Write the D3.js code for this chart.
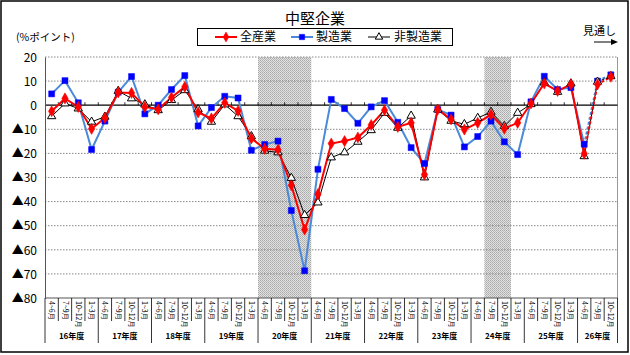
<!DOCTYPE html>
<html><head><meta charset="utf-8">
<script src="https://cdn.jsdelivr.net/npm/d3@7/dist/d3.min.js"></script>
<style>
body{margin:0;background:#fff;}
svg{display:block;}
text{font-family:"Liberation Sans","Noto Sans CJK JP",sans-serif;}
.jp{font-family:"Noto Sans CJK JP",sans-serif;}
</style></head>
<body>
<svg id="c" width="630" height="355"></svg>
<script>
const years = ["16年度","17年度","18年度","19年度","20年度","21年度","22年度","23年度","24年度","25年度","26年度"];
const quarters = ["4~6月","7~9月","10~12月","1~3月"];
const lastYearQuarters = 3;
const yTicks = [20,10,0,-10,-20,-30,-40,-50,-60,-70,-80];
const seriesNames = ["全産業","製造業","非製造業"];
const allIndustry = [-2.5,2.8,-0.7,-9.8,-5.3,5.3,5.1,-0.7,-1.7,3.2,7.6,-3.0,-5.5,1.0,-2.4,-13.8,
  -18.1,-18.5,-33.2,-51.6,-36.9,-15.9,-14.9,-13.4,-8.2,-2.1,-9.0,-7.3,-28.8,-1.8,
  -5.9,-10.1,-7.3,-3.9,-9.7,-7.3,0.7,9.0,5.9,8.6,-20.1,8.6,11.8];
const manufacturing = [4.7,10.2,1.0,-18.4,-6.6,5.4,11.9,-3.6,0,6.5,12.3,-8.6,-1.0,3.7,3.0,-18.7,
  -16.3,-14.9,-43.7,-68.7,-26.6,2.4,-1.4,-7.5,-0.7,1.9,-7.1,-17.6,-24.2,-1.8,
  -4.1,-17.3,-13.0,-6.6,-15.2,-20.5,1.4,12.0,6.5,7.3,-16.2,10.0,12.6];
const nonManufacturing = [-4.6,0.7,-1.4,-6.9,-4.8,5.9,2.8,0.3,-2.1,2.1,6.2,-1.7,-6.9,0.3,-4.6,-12.9,
  -18.9,-19.6,-30.2,-45.6,-40.4,-21.7,-19.6,-15.2,-10.4,-3.2,-9.4,-4.4,-30.0,-1.8,
  -6.5,-7.9,-5.3,-2.8,-8.7,-3.2,0.4,9.4,5.5,9.0,-21.2,9.7,12.0];
const forecastStart = 40;
const shadedRanges = [[16,19],[33,34]];

// categories
const cats = [];
years.forEach((y,yi)=>{
  const n = yi===years.length-1 ? lastYearQuarters : 4;
  for(let q=0;q<n;q++) cats.push({year:y, yi, q:quarters[q], idx:cats.length});
});

const svg = d3.select("#c");
const L=45, R=617.5, T=57, B=298;
const x = d3.scaleBand().domain(cats.map(d=>d.idx)).range([L,R]).padding(0);
const y = d3.scaleLinear().domain([-80,20]).range([B,T]);
const cx = i => x(i)+x.bandwidth()/2;

// outer frame
svg.append("rect").attr("x",1).attr("y",1).attr("width",627).attr("height",351)
  .attr("fill","#fff").attr("stroke","#000").attr("stroke-width",1.5);

// pattern
const defs = svg.append("defs");
const pat = defs.append("pattern").attr("id","dots").attr("width",2).attr("height",2).attr("patternUnits","userSpaceOnUse");
pat.append("rect").attr("width",2).attr("height",2).attr("fill","#e2e2e2");
pat.append("rect").attr("width",1).attr("height",1).attr("fill","#a8a8a8");
pat.append("rect").attr("x",1).attr("y",1).attr("width",1).attr("height",1).attr("fill","#b8b8b8");

shadedRanges.forEach(r=>{
  svg.append("rect").attr("x",x(r[0])).attr("y",T).attr("width",x(r[1])+x.bandwidth()-x(r[0])).attr("height",B-T)
    .attr("fill","url(#dots)");
});

// gridlines
svg.append("g").selectAll("line").data(yTicks.filter(v=>v!==0 && v!==-80)).join("line")
  .attr("x1",L).attr("x2",R).attr("y1",d=>y(d)).attr("y2",d=>y(d))
  .attr("stroke","#888").attr("stroke-width",1).attr("stroke-dasharray","1.5,1.5");
// right border
svg.append("line").attr("x1",R).attr("x2",R).attr("y1",T).attr("y2",B).attr("stroke","#999");
// zero line
svg.append("line").attr("x1",L).attr("x2",R).attr("y1",y(0)).attr("y2",y(0)).attr("stroke","#000").attr("stroke-width",1.2);
// ticks on zero line
svg.append("g").selectAll("line").data(cats.slice(1)).join("line")
  .attr("x1",d=>x(d.idx)).attr("x2",d=>x(d.idx)).attr("y1",y(0)-3).attr("y2",y(0))
  .attr("stroke","#000").attr("stroke-width",0.8);

// y axis
const yAxis = d3.axisLeft(y).tickValues(yTicks).tickSize(0).tickPadding(8)
  .tickFormat(v=> v<0 ? "▲"+(-v) : String(v));
const gy = svg.append("g").attr("transform",`translate(${L},0)`).call(yAxis);
gy.select(".domain").attr("stroke","#555");
gy.selectAll("text").attr("font-size",12).attr("fill","#000").attr("class","jp").attr("dy","0.35em");

// bottom axis line
svg.append("line").attr("x1",L).attr("x2",R).attr("y1",B).attr("y2",B).attr("stroke","#555");
// separators
const bounds = d3.range(cats.length+1);
svg.append("g").selectAll("line").data(bounds).join("line")
  .attr("x1",i=> i<cats.length ? x(i) : R).attr("x2",i=> i<cats.length ? x(i) : R)
  .attr("y1",B).attr("y2",i=>{
    const isYear = i===cats.length || cats[i].q===quarters[0];
    return isYear ? 343 : 321;
  }).attr("stroke","#000").attr("stroke-width",0.8);

// quarter labels
svg.append("g").selectAll("text").data(cats).join("text")
  .attr("class","jp")
  .attr("transform",d=>`translate(${cx(d.idx)},301) rotate(90)`)
  .attr("dy","0.35em").attr("font-size",7).attr("fill","#000")
  .text(d=>d.q);
// year labels
years.forEach((yr,yi)=>{
  const cs = cats.filter(c=>c.yi===yi);
  const mid = (x(cs[0].idx) + x(cs[cs.length-1].idx)+x.bandwidth())/2;
  svg.append("text").attr("class","jp").attr("x",mid).attr("y",339).attr("text-anchor","middle")
    .attr("font-size",8).attr("font-weight","bold").text(yr);
});

// series
const series = [
  {name:seriesNames[1], values:manufacturing, color:"#4a8ad8", mcolor:"#0000ff", w:2, sym:d3.symbolSquare, size:36, fill:"#0000ff"},
  {name:seriesNames[2], values:nonManufacturing, color:"#000", mcolor:"#000", w:1, sym:d3.symbolTriangle, size:30, fill:"#fff"},
  {name:seriesNames[0], values:allIndustry, color:"#ff0000", mcolor:"#ff0000", w:2, sym:d3.symbolDiamond, size:36, fill:"#ff0000"}
];
const line = d3.line().x(d=>cx(d.i)).y(d=>y(d.v));
series.forEach(s=>{
  const pts = s.values.map((v,i)=>({v,i}));
  svg.append("path").datum(pts.slice(0,forecastStart+1)).attr("d",line)
    .attr("fill","none").attr("stroke",s.color).attr("stroke-width",s.w);
  svg.append("path").datum(pts.slice(forecastStart)).attr("d",line)
    .attr("fill","none").attr("stroke",s.color).attr("stroke-width",s.w).attr("stroke-dasharray","3,2");
});
series.forEach(s=>{
  const pts = s.values.map((v,i)=>({v,i}));
  svg.append("g").selectAll("path").data(pts).join("path")
    .attr("transform",d=>`translate(${cx(d.i)},${y(d.v)})`)
    .attr("d",d3.symbol().type(s.sym).size(s.size))
    .attr("fill",s.fill).attr("stroke",s.mcolor).attr("stroke-width",s.fill==="#fff"?1:0.5);
});

// title
svg.append("text").attr("class","jp").attr("x",315).attr("y",19).attr("dy","0.35em").attr("text-anchor","middle")
  .attr("font-size",15).text("中堅企業");
// legend
svg.append("rect").attr("x",197.5).attr("y",28.5).attr("width",255).attr("height",17)
  .attr("fill","#fff").attr("stroke","#000");
const legendItems = [
  {s:series[2], x0:215, tx:240},
  {s:series[0], x0:291, tx:316},
  {s:series[1], x0:368, tx:394}
];
legendItems.forEach(it=>{
  const s = it.s, ly=37;
  svg.append("line").attr("x1",it.x0).attr("x2",it.x0+22).attr("y1",ly).attr("y2",ly)
    .attr("stroke",s.color).attr("stroke-width",s.w);
  svg.append("path").attr("transform",`translate(${it.x0+11},${ly})`)
    .attr("d",d3.symbol().type(s.sym).size(s.size*0.8))
    .attr("fill",s.fill).attr("stroke",s.mcolor).attr("stroke-width",s.fill==="#fff"?1:0.5);
  svg.append("text").attr("class","jp").attr("x",it.tx).attr("y",ly).attr("dy","0.36em")
    .attr("font-size",12).text(s.name);
});
// unit
svg.append("text").attr("class","jp").attr("x",16).attr("y",41).attr("font-size",10.5).text("(%ポイント)");
// forecast label + arrow
svg.append("text").attr("class","jp").attr("x",583).attr("y",35).attr("font-size",11).text("見通し");
svg.append("line").attr("x1",594).attr("x2",612).attr("y1",42).attr("y2",42).attr("stroke","#000").attr("stroke-width",1);
svg.append("path").attr("d","M611,39 L618,42 L611,45 Z").attr("fill","#000");
</script>
</body></html>
